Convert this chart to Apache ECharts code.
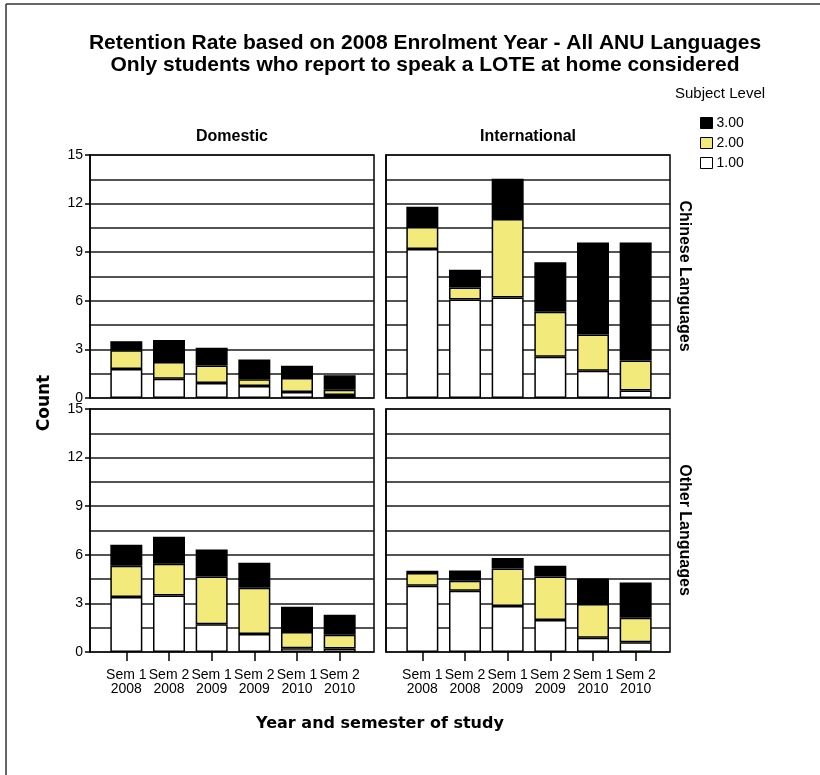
<!DOCTYPE html>
<html>
<head>
<meta charset="utf-8">
<script src="https://cdn.jsdelivr.net/npm/echarts@6/dist/echarts.min.js"></script>
<style>html,body{margin:0;padding:0;background:#fff}#c{width:820px;height:775px}</style>
</head>
<body>
<div id="c"></div>
<script>
var categories = ['Sem 1\n2008','Sem 2\n2008','Sem 1\n2009','Sem 2\n2009','Sem 1\n2010','Sem 2\n2010'];
var levelNames = ['1.00','2.00','3.00'];
var yTicks = [0,3,6,9,12,15];
// Domestic / Chinese Languages
var domChinese1 = [1.79,1.19,0.92,0.74,0.37,0.18];
var domChinese2 = [1.15,1.03,1.09,0.41,0.86,0.33];
var domChinese3 = [0.57,1.36,1.09,1.23,0.76,0.89];
// International / Chinese Languages
var intChinese1 = [9.20,6.08,6.20,2.55,1.68,0.47];
var intChinese2 = [1.36,0.74,4.85,2.77,2.24,1.85];
var intChinese3 = [1.25,1.09,2.49,3.06,5.68,7.28];
// Domestic / Other Languages
var domOther1 = [3.39,3.49,1.71,1.11,0.23,0.21];
var domOther2 = [1.93,1.95,2.95,2.86,1.00,0.86];
var domOther3 = [1.30,1.67,1.67,1.54,1.56,1.23];
// International / Other Languages
var intOther1 = [4.09,3.78,2.84,1.97,0.88,0.60];
var intOther2 = [0.78,0.62,2.32,2.69,2.08,1.52];
var intOther3 = [0.14,0.63,0.65,0.66,1.58,2.17];

var panels = [
  {left:90, top:155, data:[domChinese1,domChinese2,domChinese3], yLabels:true, xLabels:false},
  {left:386, top:155, data:[intChinese1,intChinese2,intChinese3], yLabels:false, xLabels:false},
  {left:90, top:409, data:[domOther1,domOther2,domOther3], yLabels:true, xLabels:true},
  {left:386, top:409, data:[intOther1,intOther2,intOther3], yLabels:false, xLabels:true}
];
var PW = 284, PH = 243;
var colors = ['#ffffff','#F2EB7C','#000000'];
var font = 'Liberation Sans, Arial, sans-serif';

var grids = [], xAxes = [], yAxes = [], series = [];
panels.forEach(function(p, i){
  grids.push({left:p.left, top:p.top, width:PW, height:PH, show:true, borderColor:'#000', borderWidth:1.5, backgroundColor:'transparent'});
  xAxes.push({gridIndex:2*i, type:'category', data:categories, show:false});
  yAxes.push({gridIndex:2*i, type:'value', min:0, max:15, interval:3,
    axisLine:{show:true, lineStyle:{color:'#000', width:1.5}},
    axisTick:{show:p.yLabels, length:5, lineStyle:{color:'#000', width:1.5}},
    axisLabel:{show:p.yLabels, color:'#000', fontSize:14, fontFamily:font, margin:7,
      formatter:function(v){return yTicks.indexOf(v)>=0 ? String(v) : '';}},
    splitLine:{show:true, lineStyle:{color:'#1a1a1a', width:1.6}},
    minorTick:{show:false, splitNumber:2},
    minorSplitLine:{show:true, lineStyle:{color:'#1a1a1a', width:1.6}}
  });
  grids.push({left:p.left+15, top:p.top, width:256, height:PH, show:false});
  xAxes.push({gridIndex:2*i+1, type:'category', data:categories,
    axisLine:{show:false},
    axisTick:{show:p.xLabels, alignWithLabel:true, interval:0, length:9, lineStyle:{color:'#000', width:1.5}},
    axisLabel:{show:p.xLabels, interval:0, color:'#000', fontSize:14, fontFamily:font, lineHeight:14, margin:16}
  });
  yAxes.push({gridIndex:2*i+1, type:'value', min:0, max:15, show:false});
  p.data.forEach(function(arr, k){
    series.push({type:'bar', name:levelNames[k], xAxisIndex:2*i+1, yAxisIndex:2*i+1,
      stack:'s'+i, data:arr, barWidth:32,
      itemStyle:{color:colors[k], borderColor:'#000', borderWidth:1.5},
      emphasis:{disabled:true}, z:3});
  });
});

var chart = echarts.init(document.getElementById('c'));
chart.setOption({
  animation:false,
  backgroundColor:'#fff',
  title:[
    {text:'Retention Rate based on 2008 Enrolment Year - All ANU Languages\nOnly students who report to speak a LOTE at home considered',
     left:420, top:27, textAlign:'center',
     textStyle:{fontFamily:font, fontSize:21, fontWeight:'bold', color:'#000', lineHeight:22}},
    {text:'Subject Level', left:670, top:81, textStyle:{fontFamily:font, fontSize:15, fontWeight:'normal', color:'#000'}}
  ],
  legend:{
    data:['3.00','2.00','1.00'], orient:'vertical', left:695, top:111,
    itemWidth:12, itemHeight:11, itemGap:6, icon:'rect',
    itemStyle:{borderColor:'#000', borderWidth:1},
    textStyle:{fontFamily:font, fontSize:14, color:'#000', padding:[0,0,0,-1]},
    selectedMode:false
  },
  grid:grids, xAxis:xAxes, yAxis:yAxes, series:series,
  graphic:[
    {type:'line', shape:{x1:6, y1:4, x2:6, y2:775}, style:{stroke:'#333', lineWidth:1.5}},
    {type:'line', shape:{x1:6, y1:4, x2:820, y2:4}, style:{stroke:'#333', lineWidth:1.5}},
    {type:'text', x:232, y:137, style:{text:'Domestic', fontFamily:font, fontSize:16, fontWeight:'bold', fill:'#000', align:'center', verticalAlign:'middle'}},
    {type:'text', x:528, y:137, style:{text:'International', fontFamily:font, fontSize:16, fontWeight:'bold', fill:'#000', align:'center', verticalAlign:'middle'}},
    {type:'text', x:684, y:276, rotation:-Math.PI/2, style:{text:'Chinese Languages', fontFamily:font, fontSize:16, fontWeight:'bold', fill:'#000', align:'center', verticalAlign:'middle'}},
    {type:'text', x:684, y:530, rotation:-Math.PI/2, style:{text:'Other Languages', fontFamily:font, fontSize:16, fontWeight:'bold', fill:'#000', align:'center', verticalAlign:'middle'}},
    {type:'text', x:45, y:403, rotation:Math.PI/2, style:{text:'Count', fontFamily:'DejaVu Sans', fontSize:17, fontWeight:'bold', fill:'#000', align:'center', verticalAlign:'middle'}},
    {type:'text', x:380, y:724, style:{text:'Year and semester of study', fontFamily:'DejaVu Sans', fontSize:16, fontWeight:'bold', fill:'#000', align:'center', verticalAlign:'middle'}}
  ]
});
</script>
</body>
</html>
